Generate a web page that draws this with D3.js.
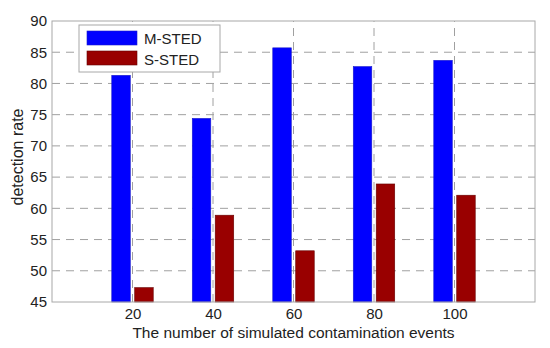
<!DOCTYPE html>
<html>
<head>
<meta charset="utf-8">
<script src="https://cdn.jsdelivr.net/npm/d3@7"></script>
<style>
  body { margin: 0; background: #fff; }
  text { font-family: "Liberation Sans", Arial, sans-serif; fill: #222; }
</style>
</head>
<body>
<script>
// values
let events = [20, 40, 60, 80, 100];
let mSted = [81.3, 74.4, 85.7, 82.7, 83.7];
let sSted = [47.3, 58.9, 53.2, 63.9, 62.1];
let seriesNames = ["M-STED", "S-STED"];
let seriesColors = ["#0000ff", "#990000"];
let seriesEdges = ["#1a1acc", "#660000"];
let yTicks = [45, 50, 55, 60, 65, 70, 75, 80, 85, 90];

let width = 550;
let height = 348;
let margin = { left: 52, right: 15, top: 21, bottom: 46 };

let svg = d3.select("body")
    .append("svg")
    .attr("width", width)
    .attr("height", height);

let x = d3.scaleLinear()
    .domain([0, 120])
    .range([margin.left, width - margin.right]);

let y = d3.scaleLinear()
    .domain([45, 90])
    .range([height - margin.bottom, margin.top]);

let plot = svg.append("g");

// grid lines
plot.selectAll("line.gy")
    .data(yTicks.slice(1, -1))
    .enter()
        .append("line")
        .attr("x1", x(0)).attr("x2", x(120))
        .attr("y1", d => y(d)).attr("y2", d => y(d))
        .attr("stroke", "#a0a0a0")
        .attr("stroke-dasharray", "8,6");

plot.selectAll("line.gx")
    .data(events)
    .enter()
        .append("line")
        .attr("x1", d => x(d)).attr("x2", d => x(d))
        .attr("y1", y(45)).attr("y2", y(90))
        .attr("stroke", "#a0a0a0")
        .attr("stroke-dasharray", "8,6");

// bars
let barW = 4.6;   // in x units
let offset = 2.85;
let series = [mSted, sSted];
series.forEach(function(vals, s) {
    plot.selectAll("rect.s" + s)
        .data(vals)
        .enter()
            .append("rect")
            .attr("x", (d, i) => x(events[i] + (s === 0 ? -offset : offset) - barW / 2))
            .attr("width", x(barW) - x(0))
            .attr("y", d => y(d))
            .attr("height", d => y(45) - y(d))
            .attr("fill", seriesColors[s])
            .attr("stroke", seriesEdges[s])
            .attr("stroke-width", 0.6);
});

// frame
plot.append("rect")
    .attr("x", x(0)).attr("y", y(90))
    .attr("width", x(120) - x(0))
    .attr("height", y(45) - y(90))
    .attr("fill", "none")
    .attr("stroke", "#a8a8a8");

// axes
let xAxis = d3.axisBottom(x).tickValues(events).tickSize(0).tickPadding(6);
let yAxis = d3.axisLeft(y).tickValues(yTicks).tickSize(0).tickPadding(5);

let gx = svg.append("g")
    .attr("transform", `translate(0, ${y(45)})`)
    .call(xAxis);
let gy = svg.append("g")
    .attr("transform", `translate(${x(0)}, 0)`)
    .call(yAxis);

[gx, gy].forEach(function(g) {
    g.select(".domain").remove();
    g.selectAll("text")
        .attr("font-size", 15)
        .attr("font-family", "Liberation Sans, Arial, sans-serif")
        .attr("fill", "#222");
});

svg.append("text")
    .attr("x", x(60))
    .attr("y", 338)
    .attr("text-anchor", "middle")
    .attr("font-size", 15.5)
    .text("The number of simulated contamination events");

svg.append("text")
    .attr("transform", `translate(23, 157) rotate(-90)`)
    .attr("text-anchor", "middle")
    .attr("font-size", 16)
    .text("detection rate");

// legend
let legend = svg.append("g").attr("transform", "translate(79, 25)");
legend.append("rect")
    .attr("width", 141).attr("height", 47)
    .attr("fill", "#fff")
    .attr("stroke", "#a8a8a8");

seriesNames.forEach(function(name, i) {
    legend.append("rect")
        .attr("x", 8).attr("y", 6 + i * 20)
        .attr("width", 50).attr("height", 14)
        .attr("fill", seriesColors[i])
        .attr("stroke", seriesEdges[i])
        .attr("stroke-width", 0.6);
    legend.append("text")
        .attr("x", 65).attr("y", 19 + i * 21)
        .attr("font-size", 15)
        .text(name);
});
</script>
</body>
</html>
